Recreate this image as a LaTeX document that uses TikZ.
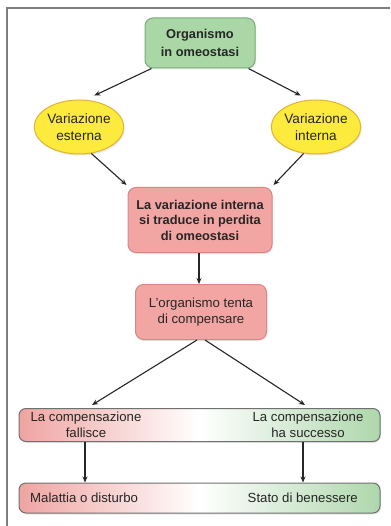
\documentclass[tikz,border=0pt]{standalone}
\usepackage{fontspec}
\setmainfont{Liberation Sans}
\usetikzlibrary{shapes.geometric,arrows.meta,shadows}
\definecolor{gfill}{HTML}{A9D7A6}
\definecolor{gdraw}{HTML}{78AE76}
\definecolor{yfill}{HTML}{FCEA3C}
\definecolor{ydraw}{HTML}{E3B232}
\definecolor{rfill}{HTML}{F2A6A3}
\definecolor{rdraw}{HTML}{DA8683}
\definecolor{bfillL}{HTML}{EFA4A1}
\definecolor{bfillR}{HTML}{AED7AC}
\definecolor{bdraw}{HTML}{707070}
\definecolor{txt}{HTML}{262626}
\definecolor{frame}{HTML}{7E7E7E}
\tikzset{
  x=1pt, y=-1pt,
  shd/.style={drop shadow={opacity=0.18, shadow xshift=1pt, shadow yshift=-1.5pt}},
  greenbox/.style={draw=gdraw, line width=1pt, fill=gfill, rounded corners=8pt, shd, text=txt, align=center, font=\fontsize{12.8}{17.5}\selectfont\bfseries},
  yellowell/.style={ellipse, draw=ydraw, line width=1pt, fill=yfill, shd, text=txt, align=center, inner sep=0pt, font=\fontsize{13.6}{17}\selectfont},
  redbox/.style={draw=rdraw, line width=1pt, fill=rfill, rounded corners=8pt, shd, text=txt, align=center},
  bar/.style={draw=bdraw, line width=1pt, rounded corners=7pt, left color=bfillL, right color=bfillR, middle color=white, shd, minimum width=361pt, inner sep=0pt},
  bartext/.style={text=txt, align=center, font=\fontsize{13.2}{16}\selectfont, inner sep=0pt},
  arr/.style={draw=txt, line width=1.1pt, -{Stealth[length=6pt,width=5pt]}},
}
\begin{document}
\begin{tikzpicture}
\useasboundingbox (0,0) rectangle (390,526);
\fill[white] (0,0) rectangle (390,526);
\draw[frame, line width=1.6pt] (7,526) -- (7,8) -- (390,8);

\node[greenbox, minimum width=110pt, minimum height=50pt] (top) at (200,43) {Organismo\\in omeostasi};
\node[yellowell, minimum width=82pt, minimum height=54pt] (el) at (79,127) {Variazione\\esterna};
\node[yellowell, minimum width=82pt, minimum height=54pt] (er) at (316,127) {Variazione\\interna};
\node[redbox, minimum width=144pt, minimum height=65pt, font=\fontsize{12.8}{15.5}\selectfont\bfseries] (b1) at (200,220) {La variazione interna\\si traduce in perdita\\di omeostasi};
\node[redbox, minimum width=131pt, minimum height=55pt, font=\fontsize{13.2}{15.5}\selectfont] (b2) at (201,312) {L'organismo tenta\\di compensare};

\node[bar, minimum height=33pt] (bar1) at (199.5,425) {};
\node[bar, minimum height=30pt] (bar2) at (199.5,498) {};
\node[bartext] (lt1) at (86,425) {La compensazione\\fallisce};
\node[bartext] (rt1) at (308,425) {La compensazione\\ha successo};
\node[bartext, anchor=west] (lt2) at (30,498) {Malattia o disturbo};
\node[bartext, anchor=east] (rt2) at (358,498) {Stato di benessere};

\coordinate (la) at (85,0);
\coordinate (ra) at (303,0);

\draw[arr] ([xshift=7pt]top.south west) -- ([xshift=3pt,yshift=5pt]el.65);
\draw[arr] ([xshift=-7pt]top.south east) -- ([xshift=-3pt,yshift=5pt]er.115);
\draw[arr] (el.-65) -- ([xshift=-1pt,yshift=2pt]b1.north west);
\draw[arr] (er.-115) -- ([xshift=1pt,yshift=2pt]b1.north east);
\draw[arr] ([xshift=-1pt]b1.south) -- ([xshift=-2pt]b2.north);
\draw[arr] ([xshift=-4pt]b2.south) -- ([xshift=-107.5pt,yshift=3pt]bar1.north);
\draw[arr] ([xshift=4pt]b2.south) -- ([xshift=105.5pt,yshift=3pt]bar1.north);
\draw[arr] (la |- bar1.south) -- (la |- bar2.north);
\draw[arr] (ra |- bar1.south) -- (ra |- bar2.north);
\end{tikzpicture}
\end{document}
